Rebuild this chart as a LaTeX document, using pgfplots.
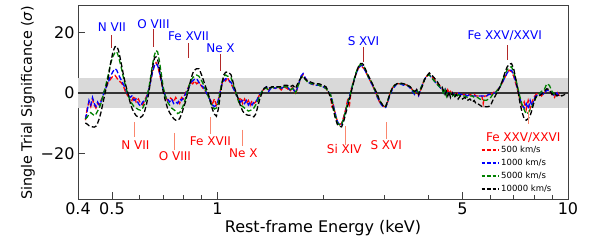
\documentclass[border=0pt]{standalone}
\usepackage{pgfplots}
\pgfplotsset{compat=1.18}
\usepackage{pgfplotstable}
\usepackage{fontspec}
\setmainfont{DejaVu Sans}
\definecolor{emis}{RGB}{178,40,40}
\definecolor{absl}{RGB}{250,135,110}
\definecolor{mgreen}{RGB}{0,128,0}
\pgfplotstableread{
E r b g k
0.420 -9.0 -8.6 -8.6 -9.9
0.425 -5.0 -6.0 -8.0 -10.3
0.430 -3.0 -2.5 -7.0 -10.8
0.435 -4.5 -4.0 -6.5 -11.0
0.440 -2.0 -1.5 -7.0 -11.2
0.445 -4.0 -3.5 -7.5 -11.3
0.450 -5.0 -4.5 -7.0 -11.0
0.455 -3.5 -3.0 -6.0 -10.0
0.460 -4.0 -4.0 -5.0 -8.5
0.465 -2.5 -3.0 -3.5 -6.5
0.470 -1.5 -1.5 -1.5 -4.0
0.475 0.5 0.5 0.5 -1.5
0.480 1.5 1.5 2.5 1.0
0.488 3.5 3.5 6.0 5.0
0.495 4.5 5.5 9.5 9.5
0.503 5.5 7.0 12.0 13.5
0.510 5.8 8.0 13.3 15.2
0.516 5.0 7.5 13.6 15.4
0.522 4.0 6.0 12.0 14.0
0.530 3.5 4.5 9.0 10.5
0.538 2.5 3.0 5.5 6.5
0.546 0.5 1.5 2.5 3.0
0.555 -1.0 -0.5 -0.5 0.0
0.563 -1.5 -1.5 -2.5 -3.0
0.570 -2.5 -1.0 -3.5 -5.0
0.578 -1.0 -2.5 -4.5 -6.5
0.586 -3.0 -2.0 -5.0 -7.5
0.595 -2.0 -3.5 -5.5 -8.0
0.603 -3.5 -4.4 -5.7 -8.1
0.612 -4.0 -3.0 -5.0 -7.5
0.620 -2.5 -2.5 -3.5 -6.0
0.628 -1.0 -1.5 -1.5 -3.5
0.637 1.0 1.0 1.5 0.0
0.645 4.0 4.0 5.5 4.5
0.653 7.0 7.0 9.5 8.5
0.661 9.0 9.0 12.5 11.5
0.668 10.0 9.7 14.0 11.9
0.675 9.0 9.0 13.5 11.0
0.683 6.5 7.0 10.5 8.0
0.692 3.5 4.0 6.0 4.0
0.700 1.0 1.0 2.0 0.5
0.710 -1.0 -1.0 -1.0 -2.5
0.720 -2.5 -2.0 -3.0 -5.0
0.730 -1.5 -3.0 -4.0 -6.5
0.740 -2.0 -2.0 -5.0 -7.5
0.750 -3.0 -3.5 -5.5 -8.5
0.760 -1.5 -3.0 -6.0 -9.0
0.770 -2.5 -3.5 -6.8 -9.0
0.780 -3.5 -2.0 -6.5 -8.5
0.790 -1.5 -2.5 -5.5 -7.0
0.800 -2.0 -1.5 -4.0 -5.0
0.810 0.0 -0.5 -2.0 -3.0
0.820 1.0 1.0 0.5 -0.5
0.830 2.5 2.0 2.5 2.0
0.840 3.5 3.5 4.0 4.5
0.850 3.0 4.0 5.0 6.5
0.860 4.0 4.5 5.5 7.5
0.872 3.0 4.7 5.9 8.0
0.885 3.5 3.5 5.5 8.0
0.897 2.5 2.5 4.5 6.5
0.910 1.5 2.0 3.0 4.5
0.925 0.5 0.5 1.0 2.0
0.940 -1.0 -1.0 -1.0 0.0
0.955 -2.5 -2.5 -3.0 -3.0
0.968 -3.5 -4.0 -4.5 -5.5
0.980 -2.0 -4.5 -5.3 -7.0
0.993 -4.0 -4.0 -5.0 -7.7
1.005 -2.5 -2.5 -3.5 -5.5
1.018 0.5 0.5 0.5 -1.0
1.030 3.0 3.0 3.5 3.0
1.043 4.5 4.0 5.5 6.0
1.055 4.0 4.7 5.9 6.8
1.068 5.0 4.5 5.5 6.9
1.080 4.0 4.0 5.5 6.6
1.093 3.0 3.5 5.0 6.0
1.105 2.0 2.0 3.5 4.0
1.120 0.5 0.5 1.0 1.5
1.135 -1.0 -1.0 -1.0 -0.5
1.150 -2.5 -2.0 -3.0 -2.5
1.165 -1.5 -3.0 -4.0 -4.5
1.180 -3.5 -2.5 -4.5 -6.0
1.195 -2.0 -3.5 -5.0 -6.8
1.210 -3.5 -2.5 -5.5 -7.2
1.225 -2.5 -4.0 -6.0 -7.4
1.240 -4.0 -3.0 -5.8 -7.4
1.255 -2.5 -4.0 -5.5 -7.6
1.270 -3.5 -3.0 -5.0 -7.9
1.285 -3.0 -3.0 -4.0 -7.0
1.300 -2.0 -2.0 -3.0 -5.0
1.320 -0.5 -0.5 -1.0 -2.0
1.340 0.5 0.5 0.5 0.0
1.360 1.5 1.5 1.5 1.5
1.380 1.5 2.0 1.5 2.0
1.400 1.0 0.5 1.0 1.5
1.430 2.0 2.0 2.0 2.0
1.460 1.5 1.5 1.5 2.0
1.490 2.0 2.0 2.0 2.0
1.520 1.0 1.5 1.5 2.0
1.550 2.0 2.0 2.0 2.5
1.580 1.5 2.0 2.0 2.5
1.610 0.5 1.0 1.0 2.0
1.640 2.0 1.5 1.5 2.5
1.670 -0.5 0.0 0.0 1.5
1.700 2.5 2.5 2.5 3.5
1.730 5.0 5.5 5.0 5.0
1.755 6.0 6.4 5.5 5.5
1.780 5.0 5.0 4.5 4.5
1.810 3.5 3.5 3.5 4.0
1.850 3.0 3.0 3.0 3.5
1.900 2.5 2.5 3.0 3.0
1.950 2.5 2.5 2.5 3.0
2.000 2.0 2.0 2.0 2.5
2.040 1.5 1.5 1.5 2.0
2.070 0.0 0.5 0.5 0.5
2.100 -0.5 -0.5 -0.5 -1.5
2.120 -4.5 -2.0 -2.0 -3.0
2.140 -4.0 -4.0 -4.5 -5.5
2.170 -7.0 -7.0 -7.5 -8.5
2.200 -9.5 -9.5 -10.0 -10.5
2.230 -10.5 -10.5 -10.5 -11.0
2.260 -10.0 -10.5 -10.5 -11.2
2.290 -8.0 -8.5 -8.5 -9.5
2.320 -5.5 -6.0 -6.0 -7.0
2.350 -2.5 -3.5 -3.5 -4.5
2.380 -4.0 -1.0 -1.5 -2.0
2.410 1.5 1.0 1.0 0.5
2.440 3.5 3.5 3.5 3.0
2.480 6.0 6.0 6.5 6.0
2.520 8.0 8.0 8.5 8.5
2.560 9.0 9.0 9.5 9.7
2.590 8.5 9.0 9.0 9.7
2.620 8.0 8.0 8.5 9.0
2.660 6.5 6.5 7.0 7.0
2.700 5.0 5.0 5.0 5.5
2.740 3.5 3.5 4.0 4.0
2.780 2.0 2.0 2.5 2.5
2.820 0.5 0.5 0.5 1.0
2.860 -1.5 -1.5 -1.0 -0.5
2.900 -3.0 -3.0 -2.5 -2.5
2.940 -3.5 -4.0 -3.5 -3.5
2.980 -4.5 -4.8 -4.5 -4.5
3.020 -4.5 -4.8 -4.5 -4.5
3.060 -3.0 -3.0 -2.5 -2.5
3.100 -0.5 -1.0 -0.5 -0.5
3.150 1.5 1.0 1.5 1.5
3.200 2.5 2.0 2.5 2.5
3.250 3.0 3.0 3.0 3.0
3.320 3.0 3.0 3.0 3.3
3.400 3.0 2.5 3.0 3.0
3.480 2.5 2.5 2.5 2.5
3.550 2.0 1.5 2.0 2.0
3.600 1.0 0.5 1.0 1.0
3.650 -0.5 -0.5 0.0 0.5
3.700 1.0 1.0 1.0 1.0
3.750 -0.8 -0.8 0.0 -0.5
3.800 1.0 1.5 1.5 1.0
3.850 3.0 3.0 3.0 2.5
3.900 4.5 4.5 4.5 4.5
3.950 5.5 5.5 5.5 5.5
4.020 6.0 6.0 6.0 6.6
4.080 5.5 5.0 5.0 6.0
4.150 4.5 4.0 4.0 5.0
4.220 3.5 3.0 3.0 4.0
4.300 2.5 2.0 2.0 2.5
4.370 1.5 1.0 1.5 2.0
4.420 0.5 0.0 -0.5 0.5
4.460 1.5 1.5 1.0 -0.5
4.500 -0.5 0.0 -1.0 0.5
4.540 1.0 0.5 0.5 -1.0
4.580 0.0 -0.5 -0.5 0.5
4.620 0.5 0.5 0.0 -1.5
4.680 -0.5 0.0 -1.0 0.0
4.740 0.0 -0.5 -0.5 -1.5
4.800 -0.5 -0.5 -1.5 -0.5
4.860 0.0 0.0 -0.5 -2.0
4.930 -0.5 -0.5 -1.0 -1.0
5.000 -0.5 -0.5 -1.0 -2.0
5.080 -0.5 -0.5 -1.0 -1.5
5.160 -1.0 -1.0 -1.5 -2.5
5.250 -0.5 -0.5 -1.0 -2.0
5.340 -1.0 -1.0 -1.0 -3.0
5.400 -0.5 -1.0 -1.5 -2.5
5.460 -1.0 -1.0 -1.5 -3.5
5.520 -1.0 -1.0 -1.5 -3.5
5.600 -1.0 -1.0 -2.0 -4.0
5.680 -1.0 -1.0 -2.3 -4.5
5.730 -3.5 -1.0 -2.4 -4.6
5.780 -1.0 -1.0 -2.4 -4.5
5.860 -1.0 -1.0 -2.4 -4.6
5.940 -0.5 -0.5 -2.0 -4.5
6.020 -0.5 -0.5 -1.5 -4.0
6.100 0.0 0.0 -0.5 -2.5
6.200 0.5 0.0 0.0 -1.0
6.300 1.0 1.0 1.0 0.5
6.400 2.0 2.0 2.0 2.0
6.500 3.5 3.5 4.0 4.0
6.600 5.0 5.0 6.0 6.5
6.700 6.5 6.5 7.5 8.5
6.800 7.5 7.5 8.5 9.5
6.900 7.0 7.5 8.6 9.7
7.000 5.5 6.0 7.0 8.0
7.100 3.0 3.5 4.5 4.5
7.200 0.5 1.0 1.5 0.5
7.300 -2.5 -2.0 -1.5 -3.5
7.400 -4.5 -4.0 -4.0 -6.5
7.500 -3.0 -5.0 -5.5 -8.5
7.600 -5.5 -3.5 -7.0 -9.0
7.700 -2.5 -5.2 -6.5 -8.5
7.800 -5.0 -2.5 -5.5 -7.5
7.900 -3.0 -4.5 -4.5 -5.5
8.000 -1.5 -2.0 -3.0 -3.0
8.100 -0.5 -1.0 -1.5 -1.3
8.250 0.0 -0.5 -0.5 -1.0
8.400 -1.0 0.0 0.5 -0.5
8.550 0.0 -0.5 1.0 0.5
8.700 1.0 1.0 3.0 1.4
8.850 1.0 0.5 2.5 1.0
9.000 -0.5 0.0 0.5 -0.5
9.150 -1.5 -1.0 -0.5 0.0
9.300 0.5 0.0 -0.5 -1.0
9.450 -1.0 -1.5 nan -0.5
9.600 nan nan nan -1.0
9.800 nan nan nan -0.5
9.950 nan nan nan -0.8
}\data
\begin{document}
\begin{tikzpicture}
\useasboundingbox (-78pt,-41pt) rectangle (520pt,199pt);
\begin{axis}[
  at={(0,0)}, anchor=south west,
  scale only axis, width=490pt, height=194pt,
  xmode=log, xmin=0.4, xmax=10, ymin=-35, ymax=29,
  xtick={0.4,0.5,1,5,10}, xticklabels={0.4,0.5,1,5,10},
  minor xtick={0.6,0.7,0.8,0.9,2,3,4,6,7,8,9},
  ytick={-20,0,20}, yticklabels={−20,0,20},
  xtick pos=bottom, ytick pos=left,
  tick align=inside, major tick length=7pt, minor tick length=4pt,
  every tick/.style={black!75, line width=0.8pt},
  axis line style={black!75, line width=0.8pt},
  tick label style={font=\fontsize{16}{18}\selectfont},
  legend style={at={(axis description cs:0.82,0.015)}, anchor=south west, draw=none, fill=none,
    font=\fontsize{8.5}{9}\selectfont, row sep=1pt, inner sep=1pt},
  legend cell align=left,
  legend image code/.code={\draw[#1, line width=1.2pt, dash pattern=on 3.5pt off 2pt] (0pt,0pt) -- (17pt,0pt);},
  every axis plot/.append style={line width=1.3pt, dash pattern=on 5pt off 2.5pt},
]
\addplot[draw=none, fill=gray!30, forget plot, solid] coordinates {(0.4,-5) (10,-5) (10,5) (0.4,5)} -- cycle;
\addplot[black!80, line width=1.2pt, solid, forget plot] coordinates {(0.4,0) (10,0)};
\addplot[red] table[x=E, y=r] {\data};
\addlegendentry{500 km/s}
\addplot[blue] table[x=E, y=b] {\data};
\addlegendentry{1000 km/s}
\addplot[mgreen] table[x=E, y=g] {\data};
\addlegendentry{5000 km/s}
\addplot[black] table[x=E, y=k] {\data};
\addlegendentry{10000 km/s}
% emission markers
\draw[emis, line width=1pt] (axis cs:0.5,19.1) -- (axis cs:0.5,14.8);
\draw[emis, line width=1pt] (axis cs:0.657,21) -- (axis cs:0.657,15);
\draw[emis, line width=1pt] (axis cs:0.827,16.3) -- (axis cs:0.827,11.4);
\draw[emis, line width=1pt] (axis cs:1.02,12.8) -- (axis cs:1.02,7.3);
\draw[emis, line width=1pt] (axis cs:2.61,15.2) -- (axis cs:2.61,10.2);
\draw[emis, line width=1pt] (axis cs:6.70,15.8) -- (axis cs:6.70,11);
\begin{scope}[every node/.style={font=\fontsize{12}{14}\selectfont, inner sep=0pt}]
\node[blue] at (axis cs:0.5,21.6) {N VII};
\node[blue] at (axis cs:0.657,22.6) {O VIII};
\node[blue] at (axis cs:0.827,18.8) {Fe XVII};
\node[blue] at (axis cs:1.02,14.7) {Ne X};
\node[blue] at (axis cs:2.61,17.2) {S XVI};
\node[blue] at (axis cs:6.60,18.8) {Fe XXV/XXVI};
\end{scope}
% absorption markers
\draw[absl, line width=1pt] (axis cs:0.58,-9.6) -- (axis cs:0.58,-14.7);
\draw[absl, line width=1pt] (axis cs:0.754,-13.2) -- (axis cs:0.754,-18.7);
\draw[absl, line width=1pt] (axis cs:0.955,-8.1) -- (axis cs:0.955,-13.4);
\draw[absl, line width=1pt] (axis cs:1.18,-12.1) -- (axis cs:1.18,-17.5);
\draw[absl, line width=1pt] (axis cs:2.32,-11) -- (axis cs:2.32,-17.3);
\draw[absl, line width=1pt] (axis cs:3.03,-9.6) -- (axis cs:3.03,-15.1);
\draw[absl, line width=1pt] (axis cs:7.7,-5.7) -- (axis cs:7.7,-10.3);
\begin{scope}[every node/.style={font=\fontsize{12}{14}\selectfont, inner sep=0pt}]
\node[red] at (axis cs:0.583,-17.3) {N VII};
\node[red] at (axis cs:0.756,-20.8) {O VIII};
\node[red] at (axis cs:0.955,-15.9) {Fe XVII};
\node[red] at (axis cs:1.185,-19.9) {Ne X};
\node[red] at (axis cs:2.30,-18.6) {Si XIV};
\node[red] at (axis cs:3.03,-17.3) {S XVI};
\node[red] at (axis cs:7.45,-14.9) {Fe XXV/XXVI};
\end{scope}
\end{axis}
\node[font=\fontsize{16}{18}\selectfont, inner sep=0pt] at (245pt,-29pt) {Rest-frame Energy (keV)};
\node[font=\fontsize{14.3}{16}\selectfont, inner sep=0pt, rotate=90] at (-50pt,96pt) {Single Trial Significance (\textit{σ})};
\end{tikzpicture}
\end{document}
